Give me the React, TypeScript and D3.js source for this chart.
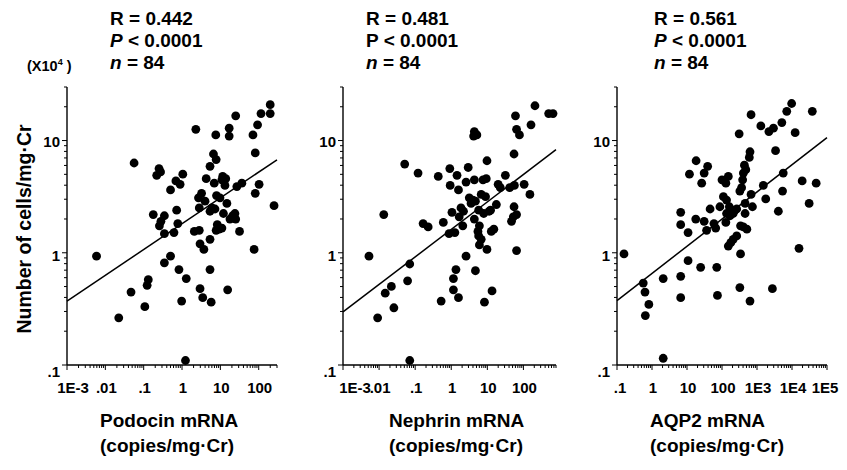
import React from "react";
import * as d3 from "d3";

// ---------- DATA ----------
// y: number of cells/mg·Cr (x10^4), stored as log10 values; x: mRNA copies/mg·Cr, stored as log10 values
const yTickValues = [0.1, 1, 10];
const yTickLabels = [".1", "1", "10"];

const podocinTicks = [1e-3, 1e-2, 1e-1, 1, 10, 100];
const podocinTickLabels = ["1E-3", ".01", ".1", "1", "10", "100"];
const nephrinTicks = [1e-3, 1e-2, 1e-1, 1, 10, 100];
const nephrinTickLabels = ["1E-3", ".01", ".1", "1", "10", "100"];
const aqp2Ticks = [0.1, 1, 10, 100, 1e3, 1e4, 1e5];
const aqp2TickLabels = [".1", "1", "10", "100", "1E3", "1E4", "1E5"];

const podocinLogX = [-2.23, -1.65, -1.25, -1.33, -0.97, -0.91, -0.88, -0.75, -0.66, -0.6, -0.56, -0.59, -0.55, -0.46, -0.46, -0.46, -0.3, -0.3, -0.21, -0.14, -0.11, -0.16, -0.05, 0.02, -0.08, -0.01, 0.11, 0.09, 0.36, 0.32, 0.45, 0.43, 0.45, 0.51, 0.6, 0.47, 0.57, 0.47, 0.54, 0.63, 0.73, 0.82, 0.89, 0.88, 0.73, 0.78, 0.86, 0.84, 0.9, 0.99, 0.73, 0.73, 0.76, 0.92, 0.97, 0.89, 1.04, 1.06, 1.04, 1.14, 1.12, 1.08, 1.17, 1.19, 1.23, 1.23, 1.25, 1.32, 1.38, 1.4, 1.4, 1.43, 1.56, 1.5, 1.85, 1.97, 1.91, 1.91, 2.01, 1.88, 2.06, 2.3, 2.3, 2.4];
const podocinLogY = [-0.03, -0.58, 0.8, -0.35, -0.48, -0.29, -0.24, 0.34, 0.69, 0.75, 0.72, 0.24, 0.28, 0.33, 0.17, -0.09, -0.03, 0.56, 0.18, 0.38, 0.26, 0.64, 0.61, 0.7, -0.15, -0.43, -0.23, -0.96, 1.1, 0.19, 0.2, 0.49, 0.4, 0.53, 0.46, 0.08, 0.03, -0.32, -0.4, 0.66, 0.77, 0.88, 0.83, 1.05, 0.37, 0.4, 0.39, 0.62, 0.51, 0.49, 0.12, -0.15, -0.44, 0.25, 0.21, 0.2, 0.22, 0.68, 0.65, 0.66, 0.6, 0.35, 0.44, -0.33, 1.11, 1.04, 0.3, 0.33, 0.35, 0.3, 1.22, 0.59, 0.62, 0.19, 1.05, 1.14, 0.89, 0.53, 0.61, 0.03, 1.24, 1.32, 1.24, 0.42];

const nephrinLogX = [-2.28, -2.04, -1.87, -1.83, -1.66, -1.59, -1.29, -1.21, -1.15, -1.15, -0.92, -0.78, -0.64, -0.36, -0.28, -0.22, -0.04, -0.03, -0.06, 0.02, 0.1, 0.06, 0.06, 0.13, 0.16, 0.2, 0.2, 0.22, 0.27, 0.32, 0.34, 0.41, 0.41, 0.47, 0.5, 0.55, 0.6, 0.64, 0.67, 0.64, 0.67, 0.64, 0.71, 0.62, 0.76, 0.78, 0.74, 0.76, 0.83, 0.78, 0.83, 0.88, 0.9, 0.95, 0.99, 0.99, 0.97, 0.92, 1.05, 1.09, 1.11, 1.13, 1.18, 1.25, 1.3, 1.36, 1.5, 1.62, 1.67, 1.72, 1.74, 1.74, 1.75, 1.78, 1.81, 1.89, 1.81, 2.02, 2.18, 2.21, 2.32, 2.7, 2.82, 1.81];
const nephrinLogY = [-0.03, -0.58, 0.34, -0.36, -0.3, -0.49, 0.79, -0.25, -0.1, -0.96, 0.71, 0.26, 0.23, 0.68, -0.43, 0.27, 0.75, 0.6, 0.17, 0.36, 0.18, -0.23, -0.33, -0.15, 0.69, 0.56, -0.4, 0.32, 0.4, 0.24, 0.37, -0.03, 0.63, 0.76, 0.49, 0.44, 0.47, 0.3, -0.16, 0.65, 0.46, 1.08, 1.05, 1.04, 0.38, 0.24, 0.19, 0.15, 0.12, 0.07, 0.52, 0.65, 0.35, 0.5, 0.03, 0.82, 0.66, -0.44, 0.37, 0.38, 0.19, -0.34, 0.21, 0.43, 0.61, 0.58, 0.69, 0.58, 0.28, 0.32, 0.41, 0.88, 0.6, 1.22, 1.1, 1.05, 0.02, 0.61, 0.52, 1.14, 1.31, 1.24, 1.24, 0.34];

const aqp2LogX = [-0.8, -0.25, -0.2, -0.09, -0.19, 0.32, 0.32, 0.82, 0.82, 0.82, 0.82, 1.03, 1.03, 1.07, 1.26, 1.25, 1.39, 1.42, 1.49, 1.59, 1.49, 1.56, 1.66, 1.77, 1.82, 1.85, 1.87, 1.94, 2.0, 2.04, 2.11, 2.13, 2.11, 2.13, 2.18, 2.21, 2.23, 2.28, 2.32, 2.37, 2.42, 2.18, 2.25, 2.32, 2.42, 2.49, 2.51, 2.56, 2.59, 2.61, 2.64, 2.68, 2.66, 2.66, 2.53, 2.61, 2.71, 2.53, 2.51, 2.78, 2.8, 2.83, 2.8, 2.83, 2.87, 3.11, 3.18, 3.25, 3.34, 3.47, 3.44, 3.53, 3.61, 3.71, 3.73, 3.75, 3.85, 3.99, 4.09, 4.2, 4.29, 4.49, 4.58, 4.69];
const aqp2LogY = [-0.01, -0.27, -0.35, -0.46, -0.56, -0.23, -0.94, 0.36, 0.25, -0.21, -0.4, 0.18, -0.07, 0.7, 0.82, 0.3, -0.13, 0.62, 0.71, 0.77, 0.28, 0.2, 0.39, 0.26, 0.22, -0.13, -0.38, 0.41, 0.65, 0.5, 0.62, 0.47, 0.27, 0.35, 0.68, 0.41, 0.33, 0.37, 0.35, 0.38, 0.39, 0.06, 0.09, 0.12, 0.15, 1.06, 0.55, 0.58, 0.65, 0.71, 0.78, 0.74, 0.44, 0.35, 0.24, 0.23, 0.21, -0.01, -0.31, 0.85, 0.9, 1.23, -0.43, 0.52, 0.41, 1.13, 0.6, 0.48, 1.08, 1.11, -0.32, 0.91, 0.37, 1.16, 0.55, 0.71, 1.26, 1.33, 1.07, 0.04, 0.64, 0.44, 1.26, 0.62];

// regression lines (log10 y = intercept + slope * log10 x)
const fitSlopes = [0.23, 0.245, 0.242];
const fitIntercepts = [0.259, 0.208, -0.184];

const rValues = ["0.442", "0.481", "0.561"];
const pValueText = "< 0.0001";
const nCounts = [84, 84, 84];
const markerNames = ["Podocin mRNA", "Nephrin mRNA", "AQP2 mRNA"];
const unitText = "(copies/mg\u00B7Cr)";
const yTitle = "Number of cells/mg\u00B7Cr";

// ---------- LAYOUT ----------
const FONT = "'Liberation Sans', Arial, Helvetica, sans-serif";
const TOP = 87;
const BOTTOM = 365;
const Y_DOMAIN: [number, number] = [0.1, 30];

const panels = [
  { left: 67, right: 277, domain: [1e-3, 300] as [number, number], ticks: podocinTicks, labels: podocinTickLabels, lx: podocinLogX, ly: podocinLogY, annX: 110, labelX: 100, pItalic: true, firstDx: 6, lastDx: 1 },
  { left: 343, right: 556, domain: [1e-3, 800] as [number, number], ticks: nephrinTicks, labels: nephrinTickLabels, lx: nephrinLogX, ly: nephrinLogY, annX: 366, labelX: 389, pItalic: false, firstDx: 12, lastDx: 1 },
  { left: 617, right: 827, domain: [0.1, 1e5] as [number, number], ticks: aqp2Ticks, labels: aqp2TickLabels, lx: aqp2LogX, ly: aqp2LogY, annX: 654, labelX: 650, pItalic: true, firstDx: 3, lastDx: -2 },
];

function minorValues(domain: [number, number]) {
  const out: { v: number; major: boolean }[] = [];
  const lo = Math.floor(Math.log10(domain[0]) + 1e-9);
  const hi = Math.ceil(Math.log10(domain[1]) - 1e-9);
  for (let e = lo; e <= hi; e++) {
    for (let m = 1; m <= 9; m++) {
      const v = m * Math.pow(10, e);
      if (v >= domain[0] * 0.999 && v <= domain[1] * 1.001) out.push({ v, major: m === 1 });
    }
  }
  return out;
}

function Panel({ p, idx }: { p: (typeof panels)[number]; idx: number }) {
  const x = d3.scaleLog().domain(p.domain).range([p.left, p.right]);
  const y = d3.scaleLog().domain(Y_DOMAIN).range([BOTTOM, TOP]);
  const pts = p.lx.map((v, i) => ({ x: Math.pow(10, v), y: Math.pow(10, p.ly[i]) }));
  const fitLine = d3
    .line<number>()
    .x((v) => x(v))
    .y((v) => y(Math.pow(10, fitIntercepts[idx] + fitSlopes[idx] * Math.log10(v))));
  const xt = minorValues(p.domain);
  const yt = minorValues(Y_DOMAIN);
  const yDy = [12, 8, 6];
  const nT = p.ticks.length;
  return (
    <g>
      {/* annotation */}
      <g fontFamily={FONT} fontWeight="bold" fontSize={19} fill="#000">
        <text x={p.annX} y={25}>R = {rValues[idx]}</text>
        <text x={p.annX} y={47}>
          <tspan fontStyle={p.pItalic ? "italic" : "normal"}>P</tspan>
          <tspan> {pValueText}</tspan>
        </text>
        <text x={p.annX} y={69}>
          <tspan fontStyle="italic">n</tspan>
          <tspan> = {nCounts[idx]}</tspan>
        </text>
      </g>
      {/* axes */}
      <line x1={p.left} x2={p.left} y1={TOP} y2={BOTTOM} stroke="#000" strokeWidth={1.4} />
      <line x1={p.left} x2={p.right} y1={BOTTOM} y2={BOTTOM} stroke="#000" strokeWidth={1.4} />
      {yt.map((t, i) => (
        <line key={"yt" + i} x1={p.left - (t.major ? 5 : 3)} x2={p.left} y1={y(t.v)} y2={y(t.v)} stroke="#000" strokeWidth={1} />
      ))}
      {xt.map((t, i) => (
        <line key={"xt" + i} x1={x(t.v)} x2={x(t.v)} y1={BOTTOM} y2={BOTTOM + (t.major ? 5 : 3)} stroke="#000" strokeWidth={1} />
      ))}
      <g fontFamily={FONT} fontWeight="bold" fontSize={15} fill="#000">
        {yTickValues.map((v, i) => (
          <text key={"yl" + i} x={p.left - 7} y={y(v) + yDy[i]} textAnchor="end">{yTickLabels[i]}</text>
        ))}
        {p.ticks.map((v, i) => (
          <text key={"xl" + i} x={x(v) + (i === 0 ? p.firstDx : i === nT - 1 ? p.lastDx : 1)} y={393} textAnchor="middle">{p.labels[i]}</text>
        ))}
      </g>
      {/* regression line */}
      <path d={fitLine(p.domain) || ""} fill="none" stroke="#000" strokeWidth={1.5} />
      {/* points */}
      {pts.map((d, i) => (
        <circle key={"pt" + i} cx={x(d.x)} cy={y(d.y)} r={4.4} fill="#000" />
      ))}
      {/* axis titles */}
      <g fontFamily={FONT} fontWeight="bold" fontSize={19} fill="#000">
        <text x={p.labelX} y={427}>{markerNames[idx]}</text>
        <text x={p.labelX} y={452}>{unitText}</text>
      </g>
    </g>
  );
}

export default function App() {
  return (
    <svg width={847} height={470} viewBox="0 0 847 470" style={{ display: "block", background: "#fff", position: "absolute", left: 0, top: 0 }}>
      <rect x={0} y={0} width={847} height={470} fill="#fff" />
      <text x={27} y={71} fontFamily={FONT} fontWeight="bold" fontSize={14.5} fill="#000">
        (X10<tspan fontSize={9} dy={-6}>4</tspan>
        <tspan dy={6}> )</tspan>
      </text>
      <text transform="translate(31,229) rotate(-90)" textAnchor="middle" fontFamily={FONT} fontWeight="bold" fontSize={19.5} fill="#000">
        {yTitle}
      </text>
      {panels.map((p, i) => (
        <Panel key={i} p={p} idx={i} />
      ))}
    </svg>
  );
}
